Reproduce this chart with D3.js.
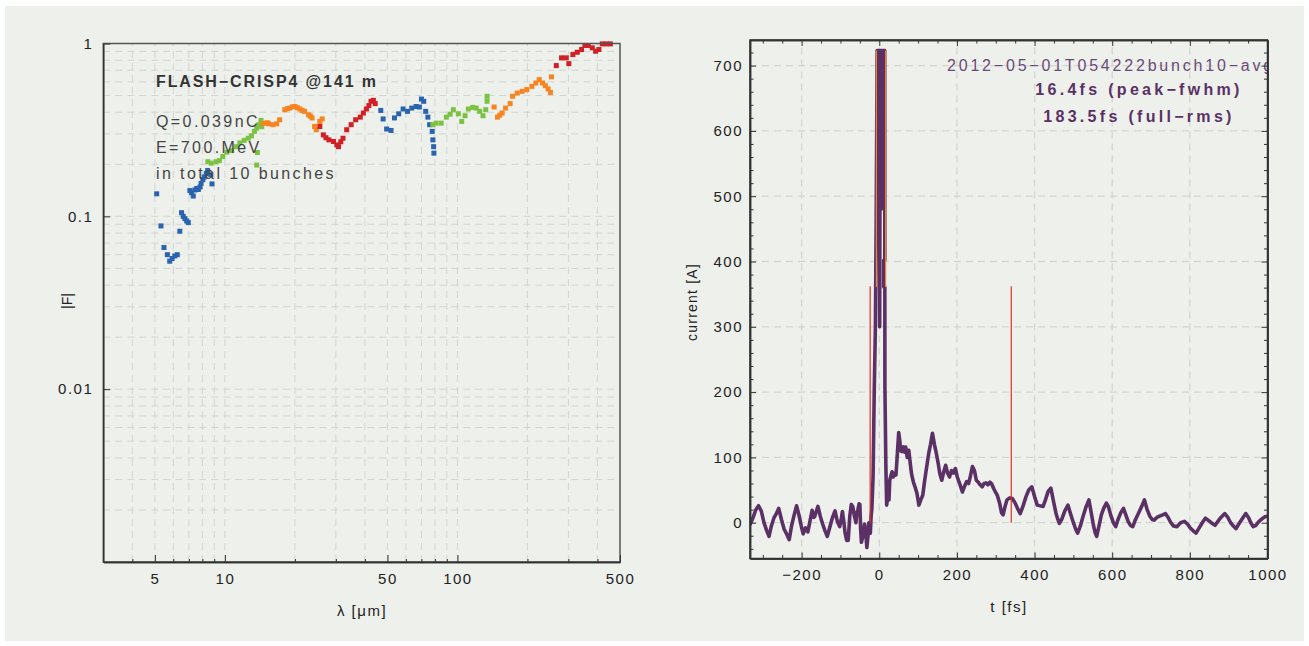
<!DOCTYPE html>
<html>
<head>
<meta charset="utf-8">
<script src="https://cdn.jsdelivr.net/npm/d3@7"></script>
<style>
  body { margin: 0; background: #fff; }
  text { font-family: "Liberation Sans", Arial, sans-serif; }
</style>
</head>
<body>
<div id="chart"></div>
<script>
// ---- data: left panel, |F| form factor per grating segment (lambda um, |F|) ----
const seg1 = [[5.09,0.135],[5.31,0.088],[5.47,0.066],[5.66,0.060],[5.79,0.055],[5.93,0.057],[6.09,0.059],[6.24,0.060],[6.40,0.082],[6.51,0.105],[6.62,0.100],[6.73,0.097],[6.85,0.094],[6.96,0.092],[7.07,0.141],[7.19,0.137],[7.31,0.131],[7.43,0.142],[7.56,0.145],[7.69,0.143],[7.82,0.148],[7.90,0.155],[8.04,0.163],[8.15,0.169],[8.32,0.177],[8.43,0.184],[8.70,0.174],[8.80,0.154]];
const seg2 = [[8.45,0.207],[8.73,0.203],[9.16,0.207],[9.47,0.210],[9.8,0.222],[10.2,0.235],[10.7,0.240],[11.2,0.253],[11.6,0.266],[12.1,0.275],[12.6,0.283],[13.0,0.292],[13.4,0.310],[13.7,0.324],[14.0,0.339],[14.3,0.359],[14.4,0.330],[13.8,0.234],[13.7,0.198]];
const seg3 = [[14.6,0.345],[15.2,0.348],[15.4,0.343],[16.1,0.339],[16.7,0.343],[17.2,0.362],[18.1,0.414],[18.6,0.420],[19.0,0.423],[19.5,0.430],[20.0,0.432],[20.5,0.425],[21.0,0.418],[21.5,0.410],[22.0,0.405],[22.9,0.387],[23.3,0.380],[23.7,0.371],[24.3,0.331],[24.7,0.317],[25.6,0.354],[26.2,0.366]];
const seg4 = [[25.6,0.331],[26.5,0.296],[27.2,0.285],[28.0,0.277],[29.3,0.271],[30.3,0.259],[30.8,0.253],[31.5,0.270],[32.2,0.283],[33.4,0.317],[34.9,0.339],[36.5,0.362],[38.2,0.375],[39.4,0.396],[40.6,0.418],[41.6,0.437],[42.5,0.463],[43.5,0.469],[44.3,0.449]];
const seg5 = [[46.8,0.410],[47.9,0.366],[49.6,0.320],[51.8,0.314],[53.6,0.371],[55.9,0.392],[58.4,0.418],[61.0,0.405],[63.6,0.423],[66.4,0.432],[68.6,0.429],[70.0,0.477],[71.6,0.463],[73.0,0.405],[74.6,0.375],[75.9,0.339],[77.9,0.310],[78.4,0.277],[79.0,0.253],[79.2,0.232]];
const seg6 = [[78.4,0.339],[80.9,0.346],[85.1,0.346],[89.6,0.375],[93.0,0.390],[96.0,0.414],[100.9,0.392],[104.3,0.354],[107.8,0.382],[111.4,0.418],[116.3,0.427],[120.5,0.423],[124.6,0.405],[128.8,0.382],[132.3,0.414],[134.1,0.463],[134.1,0.495]];
const seg7 = [[143.8,0.429],[148.7,0.375],[152.0,0.385],[155.6,0.396],[161.1,0.423],[168.5,0.449],[172.6,0.495],[180.8,0.517],[189.8,0.529],[198.7,0.541],[208.9,0.565],[217.4,0.591],[224.7,0.618],[232.2,0.591],[238.7,0.570],[245.3,0.546],[251.1,0.521],[253.7,0.641]];
const seg8 = [[266.1,0.745],[280.3,0.826],[293.7,0.826],[301.3,0.765],[313.6,0.863],[327.6,0.890],[341.9,0.923],[353.4,0.974],[365.3,0.974],[380.0,0.944],[392.7,0.902],[405.8,0.923],[419.5,0.995],[437.0,0.995],[454.6,0.995]];
const segments = [seg1, seg2, seg3, seg4, seg5, seg6, seg7, seg8];
const segColors = ["#2a64ae", "#7cc242", "#f7841f", "#d21f26", "#2a64ae", "#7cc242", "#f7841f", "#d21f26"];

const lamMajor = [5, 10, 50, 100, 500];
const lamMinor = [4, 6, 7, 8, 9, 20, 30, 40, 60, 70, 80, 90, 200, 300, 400];
const fMajor = [1, 0.1, 0.01];
const infoLines = ["Q=0.039nC", "E=700.MeV", "in total 10 bunches"];

// ---- data: right panel, current profile (t fs, I A) ----
const profile = [[-333,-3],[-325,8],[-318,20],[-311,26],[-304,18],[-297,0],[-290,-12],[-284,-21],[-278,-5],[-271,8],[-265,14],[-259,22],[-252,5],[-245,-10],[-238,-18],[-232,-26],[-226,-5],[-220,10],[-213,26],[-207,12],[-201,-5],[-196,-17],[-190,-8],[-184,-14],[-178,4],[-173,19],[-169,8],[-166,10],[-162,18],[-158,25],[-152,10],[-146,-2],[-140,-12],[-134,-21],[-128,-8],[-122,5],[-118,12],[-114,18],[-108,2],[-102,-6],[-98,5],[-95,17],[-91,0],[-88,-16],[-84,-27],[-80,-27],[-76,10],[-72,28],[-68,24],[-64,10],[-60,0],[-58,14],[-55,20],[-52,29],[-50,28],[-48,-10],[-46,-30],[-42,-20],[-38,-2],[-35,-15],[-32,-38],[-29,-20],[-27,0],[-25,-5],[-23,-16],[-21,10],[-19,22],[-16,70],[-13,200],[-10,300],[-8,458],[-5.5,723],[-3.5,723],[-3,420],[-1.5,723],[0.5,723],[1,300],[2.5,723],[4.5,723],[5,480],[6.5,723],[8.5,723],[9,520],[10.5,723],[14,723],[14.3,402],[11.5,402],[11.5,361],[14.3,361],[14.5,209],[17,86],[19,27],[22,40],[25,35],[27,65],[30,72],[33,78],[36,70],[40,76],[43,73],[46,100],[50,138],[53,125],[55,110],[58,109],[62,116],[65,108],[68,116],[72,100],[76,111],[80,90],[83,75],[88,62],[92,55],[97,45],[102,27],[107,35],[112,42],[117,65],[122,85],[127,105],[132,120],[137,137],[142,120],[147,106],[152,90],[156,75],[161,65],[166,78],[171,88],[176,76],[181,70],[186,80],[191,76],[196,83],[201,70],[207,60],[214,47],[219,55],[225,63],[230,60],[235,72],[240,86],[245,80],[250,65],[255,62],[260,58],[265,55],[270,60],[275,61],[280,58],[285,62],[289,60],[295,52],[300,46],[304,42],[310,30],[315,15],[319,12],[324,25],[329,35],[336,38],[343,37],[350,30],[356,22],[363,14],[370,25],[378,40],[385,50],[393,55],[400,40],[407,27],[414,26],[422,25],[428,35],[435,48],[442,53],[448,35],[455,15],[460,5],[464,-1],[470,5],[478,18],[486,27],[492,15],[500,0],[506,-10],[511,-16],[518,-5],[525,10],[533,25],[540,35],[546,15],[552,-5],[556,-15],[560,-21],[566,-5],[572,12],[578,22],[585,30],[590,25],[596,12],[603,0],[609,-6],[615,5],[622,15],[629,22],[635,12],[641,2],[647,-4],[653,-6],[660,5],[668,15],[676,25],[683,35],[690,20],[697,10],[703,5],[708,4],[715,8],[722,10],[730,12],[737,14],[744,8],[751,0],[758,-5],[767,-6],[776,0],[786,2],[794,-2],[801,-8],[808,-12],[816,-16],[824,-8],[832,0],[840,7],[847,4],[855,0],[865,-4],[872,2],[880,8],[890,14],[898,8],[905,0],[912,-5],[919,-9],[926,-2],[935,6],[944,14],[951,8],[957,0],[963,-6],[970,-4],[978,2],[986,6],[993,9],[1000,10]];
const fwhmT = [-7.5, 16.5];
const fwhmLevels = [361, 723];
const rmsT = [-23.5, 340];
const rmsLevels = [0, 362];
const tMajor = [-200, 0, 200, 400, 600, 800, 1000];
const iMajor = [0, 100, 200, 300, 400, 500, 600, 700];
const labelLines = ["2012\u221205\u221201T054222bunch10\u2212avg", "16.4fs (peak\u2212fwhm)", "183.5fs (full\u2212rms)"];

const width = 1309;
const height = 646;
const svg = d3.select("#chart").append("svg")
    .attr("width", width)
    .attr("height", height);

svg.append("rect").attr("x", 5).attr("y", 6).attr("width", 1299).attr("height", 635).attr("fill", "#eef0ec");

const gridColor = "#d3d5d1";
const axisColor = "#333";

// ================= left panel =================
const x = d3.scaleLog().domain([3, 500]).range([103.3, 620]);
const y = d3.scaleLog().domain([0.001, 1]).range([562, 43.5]);

const fGrid = [];
[0.001, 0.01, 0.1].forEach(dec => { for (let k = 1; k <= 9; k++) fGrid.push(dec * k); });
const leftGrid = svg.append("g");
leftGrid.selectAll(".hg")
    .data(fGrid.filter(v => v > 0.0011 && v < 0.99))
    .enter().append("line")
    .attr("x1", x.range()[0]).attr("x2", x.range()[1])
    .attr("y1", d => y(d)).attr("y2", d => y(d))
    .attr("stroke", gridColor).attr("stroke-dasharray", "7,5");
leftGrid.selectAll(".vg")
    .data(lamMajor.concat(lamMinor).filter(v => v < 500))
    .enter().append("line")
    .attr("x1", d => x(d)).attr("x2", d => x(d))
    .attr("y1", y.range()[0]).attr("y2", y.range()[1])
    .attr("stroke", gridColor).attr("stroke-dasharray", "7,5");

// scatter points
segments.forEach((seg, i) => {
    svg.append("g").selectAll("rect")
        .data(seg)
        .enter().append("rect")
        .attr("x", d => x(d[0]) - 2.5)
        .attr("y", d => y(d[1]) - 2.5)
        .attr("width", 5).attr("height", 5)
        .attr("fill", segColors[i]);
});

// frame
svg.append("rect")
    .attr("x", 103.3).attr("y", 43.5)
    .attr("width", 620 - 103.3).attr("height", 562 - 43.5)
    .attr("fill", "none").attr("stroke", "#555").attr("stroke-width", 1.5);

function styleAxis(g) {
    g.select(".domain").attr("stroke", axisColor).attr("stroke-width", 1.5);
    g.selectAll(".tick line").attr("stroke", axisColor);
    g.selectAll("text").attr("fill", "#222").style("font-size", "15px").style("letter-spacing", "1.5px")
        .style("font-family", "'Liberation Sans', Arial, sans-serif");
}

svg.append("g").attr("transform", "translate(0,562)")
    .call(d3.axisBottom(x).tickValues(lamMinor).tickSize(-3).tickSizeOuter(0).tickFormat(""))
    .call(styleAxis);
svg.append("g").attr("transform", "translate(0,562)")
    .call(d3.axisBottom(x).tickValues(lamMajor).tickSize(-7).tickSizeOuter(0).tickPadding(11).tickFormat(d => String(d)))
    .call(styleAxis);
svg.append("g").attr("transform", "translate(103.3,0)")
    .call(d3.axisLeft(y).tickValues(fMajor).tickSize(-7).tickSizeOuter(0).tickPadding(10).tickFormat(d => String(d)))
    .call(styleAxis);

// titles
svg.append("text")
    .attr("x", 362).attr("y", 616)
    .attr("text-anchor", "middle")
    .attr("fill", "#222").style("font-size", "15px").style("letter-spacing", "1.5px")
    .text("\u03bb [\u03bcm]");
svg.append("text")
    .attr("transform", "translate(72,301) rotate(-90)")
    .attr("text-anchor", "middle")
    .attr("fill", "#222").style("font-size", "14px")
    .text("|F|");

svg.append("text")
    .attr("x", 156).attr("y", 87)
    .attr("fill", "#333").style("font-size", "16px").style("font-weight", "bold").style("letter-spacing", "1.9px")
    .text("FLASH\u2212CRISP4 @141 m");
svg.selectAll(".info")
    .data(infoLines)
    .enter().append("text")
    .attr("x", 156)
    .attr("y", (d, i) => 127 + i * 26)
    .attr("fill", "#444").style("font-size", "16px").style("letter-spacing", "2.4px")
    .text(d => d);

// ================= right panel =================
const tx = d3.scaleLinear().domain([-333, 1000]).range([750, 1267.5]);
const ty = d3.scaleLinear().domain([-54.8, 739.2]).range([558.5, 40]);

svg.append("clipPath").attr("id", "rclip")
    .append("rect").attr("x", 750).attr("y", 40).attr("width", 517.5).attr("height", 518.5);

const rightGrid = svg.append("g");
rightGrid.selectAll(".vg")
    .data(tMajor.filter(v => v < 1000))
    .enter().append("line")
    .attr("x1", d => tx(d)).attr("x2", d => tx(d))
    .attr("y1", 558.5).attr("y2", 40)
    .attr("stroke", gridColor).attr("stroke-width", 1.3).attr("stroke-dasharray", "7,5");
rightGrid.selectAll(".hg")
    .data(iMajor)
    .enter().append("line")
    .attr("x1", 750).attr("x2", 1267.5)
    .attr("y1", d => ty(d)).attr("y2", d => ty(d))
    .attr("stroke", gridColor).attr("stroke-width", 1.3).attr("stroke-dasharray", "7,5");

const plotR = svg.append("g").attr("clip-path", "url(#rclip)");

plotR.append("path")
    .datum(profile)
    .attr("fill", "none")
    .attr("stroke", "#5a3065")
    .attr("stroke-width", 3.6)
    .attr("stroke-linejoin", "round")
    .attr("d", d3.line().x(d => tx(d[0])).y(d => ty(d[1])));

// fwhm markers at the spike edges, rms markers at half height
plotR.selectAll(".fwhm")
    .data(fwhmT)
    .enter().append("line")
    .attr("x1", d => tx(d)).attr("x2", d => tx(d))
    .attr("y1", ty(fwhmLevels[0])).attr("y2", ty(fwhmLevels[1]))
    .attr("stroke", "#f08a2c").attr("stroke-width", 1.2);
plotR.selectAll(".rms")
    .data(rmsT)
    .enter().append("line")
    .attr("x1", d => tx(d)).attr("x2", d => tx(d))
    .attr("y1", ty(rmsLevels[0])).attr("y2", ty(rmsLevels[1]))
    .attr("stroke", "#e0302a").attr("stroke-width", 1.2);

plotR.append("text")
    .attr("x", 947).attr("y", 71)
    .attr("fill", "#6a4a78").style("font-size", "16px").style("letter-spacing", "2.8px")
    .text(labelLines[0]);
svg.selectAll(".lbl")
    .data(labelLines.slice(1))
    .enter().append("text")
    .attr("x", 1139)
    .attr("y", (d, i) => 95 + i * 27)
    .attr("text-anchor", "middle")
    .attr("fill", "#5a3065").style("font-size", "16px").style("font-weight", "bold").style("letter-spacing", "3.3px")
    .text(d => d);

// frame and ticks on all four sides
svg.append("rect")
    .attr("x", 750).attr("y", 40).attr("width", 517.5).attr("height", 518.5)
    .attr("fill", "none").attr("stroke", axisColor).attr("stroke-width", 1.5);

const tMinor = d3.range(-300, 1001, 50).filter(v => !tMajor.includes(v));
const iMinor = d3.range(-40, 721, 20).filter(v => !iMajor.includes(v));

svg.append("g").attr("transform", "translate(0,558.5)")
    .call(d3.axisBottom(tx).tickValues(tMinor).tickSize(-3.5).tickSizeOuter(0).tickFormat(""))
    .call(styleAxis);
svg.append("g").attr("transform", "translate(0,558.5)")
    .call(d3.axisBottom(tx).tickValues(tMajor).tickSize(-6).tickSizeOuter(0).tickPadding(11).tickFormat(d3.format("d")))
    .call(styleAxis);
svg.append("g").attr("transform", "translate(0,40)")
    .call(d3.axisTop(tx).tickValues(tMinor).tickSize(-3.5).tickSizeOuter(0).tickFormat(""))
    .call(styleAxis);
svg.append("g").attr("transform", "translate(0,40)")
    .call(d3.axisTop(tx).tickValues(tMajor).tickSize(-6).tickSizeOuter(0).tickFormat(""))
    .call(styleAxis);
svg.append("g").attr("transform", "translate(750,0)")
    .call(d3.axisLeft(ty).tickValues(iMinor).tickSize(-3.5).tickSizeOuter(0).tickFormat(""))
    .call(styleAxis);
svg.append("g").attr("transform", "translate(750,0)")
    .call(d3.axisLeft(ty).tickValues(iMajor).tickSize(-6).tickSizeOuter(0).tickPadding(7))
    .call(styleAxis);
svg.append("g").attr("transform", "translate(1267.5,0)")
    .call(d3.axisRight(ty).tickValues(iMinor).tickSize(-3.5).tickSizeOuter(0).tickFormat(""))
    .call(styleAxis);
svg.append("g").attr("transform", "translate(1267.5,0)")
    .call(d3.axisRight(ty).tickValues(iMajor).tickSize(-6).tickSizeOuter(0).tickFormat(""))
    .call(styleAxis);

svg.append("text")
    .attr("x", 1009).attr("y", 612)
    .attr("text-anchor", "middle")
    .attr("fill", "#222").style("font-size", "15px").style("letter-spacing", "1.5px")
    .text("t [fs]");
svg.append("text")
    .attr("transform", "translate(697,302) rotate(-90)")
    .attr("text-anchor", "middle")
    .attr("fill", "#222").style("font-size", "14px").style("letter-spacing", "1.2px")
    .text("current [A]");
</script>
</body>
</html>
